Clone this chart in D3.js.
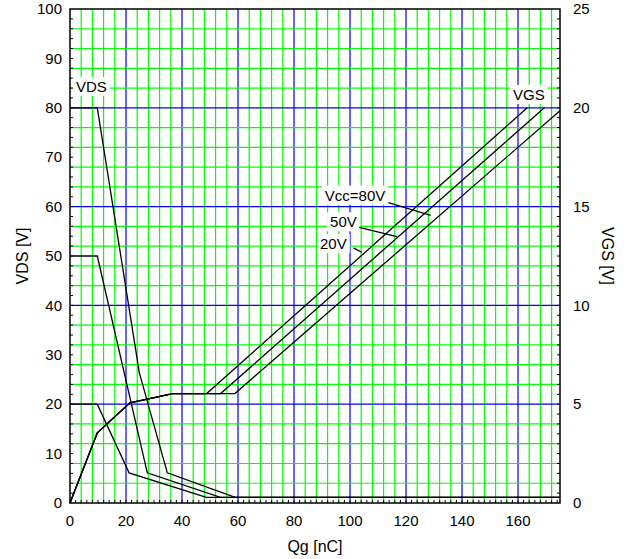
<!DOCTYPE html>
<html>
<head>
<meta charset="utf-8">
<script src="https://cdn.jsdelivr.net/npm/d3@7"></script>
<style>
  body { margin: 0; background: #fff; }
  text { font-family: "Liberation Sans", Arial, sans-serif; fill: #000; }
</style>
</head>
<body>
<div id="chart"></div>
<script>
// tick labels
var qgTicks = [0, 20, 40, 60, 80, 100, 120, 140, 160];
var vdsTicks = [0, 10, 20, 30, 40, 50, 60, 70, 80, 90, 100];
var vgsTicks = [0, 5, 10, 15, 20, 25];

// VDS curves [Qg nC, VDS V]
var vds80 = [[0, 80], [9.75, 80], [24.75, 26.4], [34.75, 6.1], [59, 1.15], [175, 1.15]];
var vds50 = [[0, 50], [9.75, 50], [27.6, 6.1], [53.7, 1.15], [175, 1.15]];
var vds20 = [[0, 20], [9.75, 20], [21.1, 6.1], [48.7, 1.15], [175, 1.15]];

// VGS curves [Qg nC, VGS V]
var vgs20 = [[0, 0], [9.75, 3.55], [21.4, 5.07], [36.7, 5.54], [48.8, 5.54], [163.3, 20]];
var vgs50 = [[0, 0], [9.75, 3.55], [21.4, 5.07], [36.7, 5.54], [53.8, 5.54], [169.4, 20]];
var vgs80 = [[0, 0], [9.75, 3.55], [21.4, 5.07], [36.7, 5.54], [58.9, 5.54], [175, 19.85]];

var margin = {top: 9, right: 66, bottom: 56, left: 70},
    width = 626 - margin.left - margin.right,
    height = 559 - margin.top - margin.bottom;

var svg = d3.select("#chart")
  .append("svg")
    .attr("width", 626)
    .attr("height", 559)
  .append("g")
    .attr("transform", "translate(" + margin.left + "," + margin.top + ")");

var x = d3.scaleLinear().domain([0, 175]).range([0, width]);
var y = d3.scaleLinear().domain([0, 100]).range([height, 0]);
var y2 = d3.scaleLinear().domain([0, 25]).range([height, 0]);

// grid: green every 4, blue every 20
var gx = d3.range(4, 175, 4);
var gy = d3.range(4, 100, 4);

svg.selectAll(".gx")
  .data(gx)
  .enter()
  .append("line")
    .attr("x1", function(d) { return x(d); })
    .attr("x2", function(d) { return x(d); })
    .attr("y1", 0)
    .attr("y2", height)
    .attr("stroke", function(d) { return d % 20 == 0 ? "#0000ff" : "#00ff00"; })
    .attr("stroke-width", 1.2);

svg.selectAll(".gy")
  .data(gy)
  .enter()
  .append("line")
    .attr("x1", 0)
    .attr("x2", width)
    .attr("y1", function(d) { return y(d); })
    .attr("y2", function(d) { return y(d); })
    .attr("stroke", function(d) { return d % 20 == 0 ? "#0000ff" : "#00ff00"; })
    .attr("stroke-width", 1.2);

// minor ticks inside the frame
svg.selectAll(".tl")
  .data(d3.range(2, 100, 2))
  .enter()
  .append("line")
    .attr("x1", 0).attr("x2", 3)
    .attr("y1", function(d) { return y(d); })
    .attr("y2", function(d) { return y(d); })
    .attr("stroke", "#000");

svg.selectAll(".tr")
  .data(d3.range(2, 100, 2))
  .enter()
  .append("line")
    .attr("x1", width - 3).attr("x2", width)
    .attr("y1", function(d) { return y(d); })
    .attr("y2", function(d) { return y(d); })
    .attr("stroke", "#000");

svg.selectAll(".tb")
  .data(d3.range(2, 175, 2))
  .enter()
  .append("line")
    .attr("x1", function(d) { return x(d); })
    .attr("x2", function(d) { return x(d); })
    .attr("y1", height - 3).attr("y2", height)
    .attr("stroke", "#000");

// frame
svg.append("rect")
  .attr("width", width)
  .attr("height", height)
  .attr("fill", "none")
  .attr("stroke", "#000")
  .attr("stroke-width", 1.5);

// tick labels
svg.selectAll(".xl")
  .data(qgTicks)
  .enter()
  .append("text")
    .attr("x", function(d) { return x(d); })
    .attr("y", height + 23)
    .attr("text-anchor", "middle")
    .style("font-size", "15px")
    .text(function(d) { return d; });

svg.selectAll(".yl")
  .data(vdsTicks)
  .enter()
  .append("text")
    .attr("x", -8)
    .attr("y", function(d) { return y(d); })
    .attr("dy", "0.35em")
    .attr("text-anchor", "end")
    .style("font-size", "15px")
    .text(function(d) { return d; });

svg.selectAll(".y2l")
  .data(vgsTicks)
  .enter()
  .append("text")
    .attr("x", width + 13)
    .attr("y", function(d) { return y2(d); })
    .attr("dy", "0.35em")
    .attr("text-anchor", "start")
    .style("font-size", "15px")
    .text(function(d) { return d; });

// axis titles
svg.append("text")
  .attr("x", width / 2)
  .attr("y", height + 49)
  .attr("text-anchor", "middle")
  .style("font-size", "16px")
  .text("Qg [nC]");

svg.append("text")
  .attr("transform", "translate(" + (-42) + "," + (height / 2) + ")rotate(-90)")
  .attr("text-anchor", "middle")
  .style("font-size", "16px")
  .text("VDS [V]");

svg.append("text")
  .attr("transform", "translate(" + (width + 42) + "," + (height / 2) + ")rotate(90)")
  .attr("text-anchor", "middle")
  .style("font-size", "16px")
  .text("VGS [V]");

// curves
var lineVds = d3.line()
  .x(function(d) { return x(d[0]); })
  .y(function(d) { return y(d[1]); });
var lineVgs = d3.line()
  .x(function(d) { return x(d[0]); })
  .y(function(d) { return y2(d[1]); });

[vds80, vds50, vds20].forEach(function(s) {
  svg.append("path")
    .attr("d", lineVds(s))
    .attr("fill", "none")
    .attr("stroke", "#000")
    .attr("stroke-width", 1.3);
});
[vgs20, vgs50, vgs80].forEach(function(s) {
  svg.append("path")
    .attr("d", lineVgs(s))
    .attr("fill", "none")
    .attr("stroke", "#000")
    .attr("stroke-width", 1.3);
});

// labels with white boxes
function label(px, py, str) {
  var t = svg.append("text")
    .attr("x", px)
    .attr("y", py)
    .style("font-size", "15px")
    .text(str);
  var b = t.node().getBBox();
  svg.insert("rect", function() { return t.node(); })
    .attr("x", b.x - 3)
    .attr("y", b.y - 1)
    .attr("width", b.width + 6)
    .attr("height", b.height + 2)
    .attr("fill", "#fff");
}

label(x(2.1), y(83.2), "VDS");
label(x(158.2), y2(20.4), "VGS");
label(x(91), y2(15.3), "Vcc=80V");
label(x(92.9), y2(13.95), "50V");
label(x(89.3), y2(12.85), "20V");

// leader lines
var leaders = [
  [[113.7, 15.2], [128.8, 14.55]],
  [[103.3, 13.95], [116.7, 13.48]],
  [[101.2, 12.91], [104.2, 12.69]]
];
leaders.forEach(function(l) {
  svg.append("path")
    .attr("d", lineVgs(l))
    .attr("stroke", "#000")
    .attr("stroke-width", 1.3);
});
</script>
</body>
</html>
